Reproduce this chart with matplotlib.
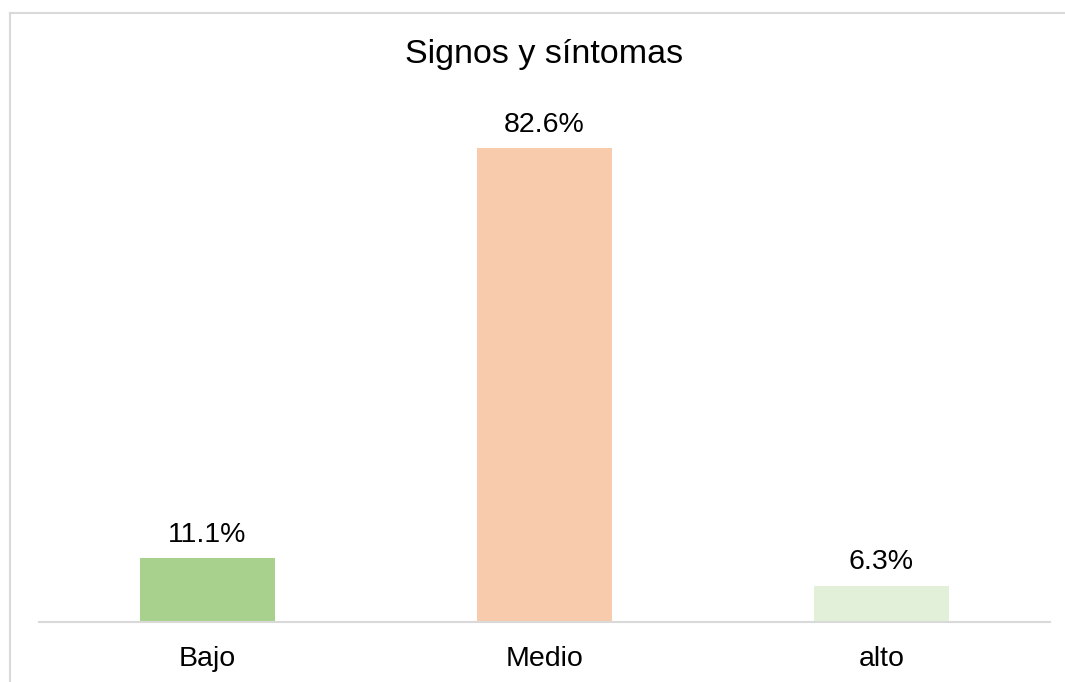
import matplotlib
matplotlib.use("Agg")
import matplotlib.pyplot as plt
from matplotlib.lines import Line2D

categories = ["Bajo", "Medio", "alto"]
values = [11.1, 82.6, 6.3]
bar_colors = ["#A9D18E", "#F8CBAD", "#E2F0D9"]
title = "Signos y síntomas"

plt.rcParams["font.family"] = ["Liberation Sans", "DejaVu Sans"]

W, H = 1065, 682
fig = plt.figure(figsize=(W / 100, H / 100), dpi=100)
fig.patch.set_facecolor("white")

# plot area in pixel coordinates
left_px, right_px, base_px, top_px = 39, 1050, 622, 105.5
ax = fig.add_axes([left_px / W, 1 - base_px / H,
                   (right_px - left_px) / W, (base_px - top_px) / H])

x = range(len(categories))
bars = ax.bar(x, values, width=0.4, color=bar_colors, zorder=2)
ax.set_xlim(-0.5, len(categories) - 0.5)
ax.set_ylim(0, 90)

for rect, v in zip(bars, values):
    ax.annotate(f"{v:.1f}%", (rect.get_x() + rect.get_width() / 2, v),
                xytext=(0, 7.5), textcoords="offset points",
                ha="center", va="bottom", fontsize=20.5, color="#000000")

ax.set_xticks(list(x))
ax.set_xticklabels(categories, fontsize=20.5, color="#000000")
ax.tick_params(axis="x", length=0, pad=17)
ax.set_yticks([])
for side in ("left", "right", "top"):
    ax.spines[side].set_visible(False)
ax.spines["bottom"].set_color("#D9D9D9")
ax.spines["bottom"].set_linewidth(1.5)
ax.set_facecolor("none")

fig.text(544 / W, 1 - 55 / H, title, ha="center", va="center",
         fontsize=24.5, color="#000000")

# chart frame (left and top edges)
fig.add_artist(Line2D([9.5 / W, 9.5 / W], [0, 1 - 12.5 / H],
                      transform=fig.transFigure, color="#D9D9D9", lw=1.5))
fig.add_artist(Line2D([9.5 / W, 1], [1 - 12.5 / H, 1 - 12.5 / H],
                      transform=fig.transFigure, color="#D9D9D9", lw=1.5))

fig.savefig("out.png", dpi=100)
